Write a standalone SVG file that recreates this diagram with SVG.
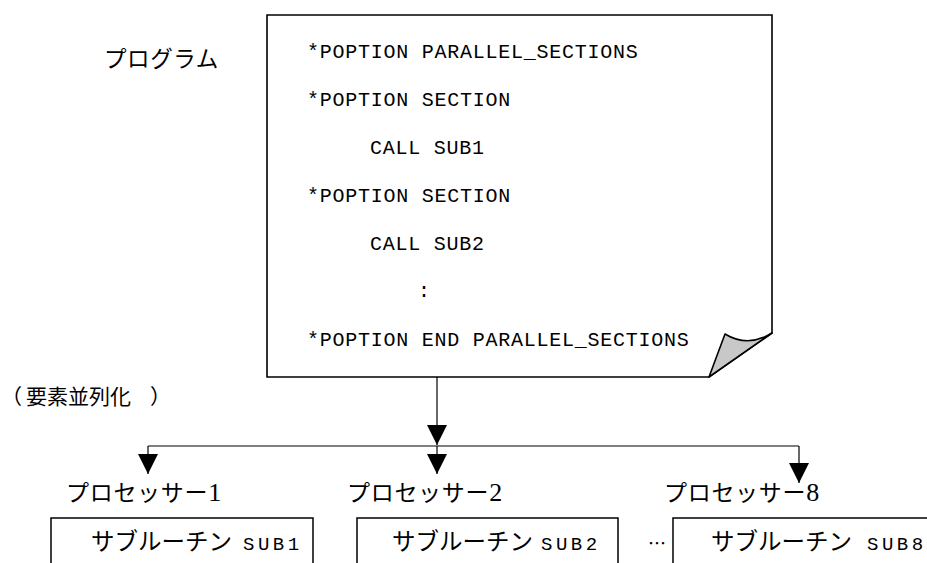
<svg xmlns="http://www.w3.org/2000/svg" width="927" height="563" viewBox="0 0 927 563">
<style>
.jp{font-family:"Noto Sans CJK JP","Noto Sans",sans-serif;fill:#000}
.code{font-family:"Liberation Mono",monospace;font-size:20px;letter-spacing:0.75px;fill:#000}
.sub{font-family:"Liberation Mono",monospace;font-size:19px;letter-spacing:3.5px;fill:#000}
.dig{font-family:"Liberation Serif",serif;font-size:26px}
.box{fill:#fff;stroke:#000;stroke-width:1.5}
.conn{fill:none;stroke:#000;stroke-width:1.2}
</style>
<defs>
<marker id="ah" markerUnits="userSpaceOnUse" markerWidth="20" markerHeight="20" refX="20" refY="10" orient="auto" viewBox="0 0 20 20">
<path d="M0,0 L20,10 L0,20 Z" fill="#000"/>
</marker>
</defs>
<rect width="927" height="563" fill="#fff"/>

<g id="label-program">
<text class="jp" x="104" y="67" font-size="22.5" letter-spacing="0.6">プログラム</text>
</g>

<g id="program">
<path d="M267,15 H772 V333 L709,377 H267 Z" fill="#fff" stroke="#000" stroke-width="1.6"/>
<path d="M709,377 L725,334 Q748,348 772,333 Z" fill="#c8c8c8" stroke="#000" stroke-width="1.6" stroke-linejoin="round"/>
<text class="code" x="307" y="58">*POPTION PARALLEL_SECTIONS</text>
<text class="code" x="307" y="106">*POPTION SECTION</text>
<text class="code" x="370" y="154">CALL SUB1</text>
<text class="code" x="307" y="202">*POPTION SECTION</text>
<text class="code" x="370" y="250">CALL SUB2</text>
<text class="code" x="418" y="297">:</text>
<text class="code" x="307" y="346">*POPTION END PARALLEL_SECTIONS</text>
</g>

<g id="label-parallel">
<text class="jp" y="404" font-size="21"><tspan x="1">（</tspan><tspan x="26">要素並列化</tspan><tspan x="150">）</tspan></text>
</g>

<g id="connectors">
<path class="conn" d="M437,377 V445" marker-end="url(#ah)"/>
<path class="conn" d="M148,446 H799"/>
<path class="conn" d="M148,446 V474" marker-end="url(#ah)"/>
<path class="conn" d="M437,446 V474" marker-end="url(#ah)"/>
<path class="conn" d="M799,446 V483" marker-end="url(#ah)"/>
</g>

<g id="proc1">
<text class="jp" x="66" y="501" font-size="23" letter-spacing="0.7">プロセッサー<tspan class="dig" letter-spacing="0">1</tspan></text>
<rect class="box" x="51" y="518" width="262" height="60"/>
<text class="jp" x="91" y="550" font-size="23.5" letter-spacing="0">サブルーチン</text>
<text class="sub" x="243" y="550">SUB1</text>
</g>

<g id="proc2">
<text class="jp" x="347" y="501" font-size="23" letter-spacing="0.7">プロセッサー<tspan class="dig" letter-spacing="0">2</tspan></text>
<rect class="box" x="357" y="518" width="261" height="60"/>
<text class="jp" x="392" y="550" font-size="23.5" letter-spacing="0">サブルーチン</text>
<text class="sub" x="541" y="550">SUB2</text>
</g>

<g id="ellipsis">
<text class="jp" x="648" y="550" font-size="18">…</text>
</g>

<g id="proc8">
<text class="jp" x="664" y="501" font-size="23" letter-spacing="0.7">プロセッサー<tspan class="dig" letter-spacing="0">8</tspan></text>
<rect class="box" x="673" y="518" width="270" height="60"/>
<text class="jp" x="711" y="550" font-size="23.5" letter-spacing="0">サブルーチン</text>
<text class="sub" x="867" y="550">SUB8</text>
</g>
</svg>
